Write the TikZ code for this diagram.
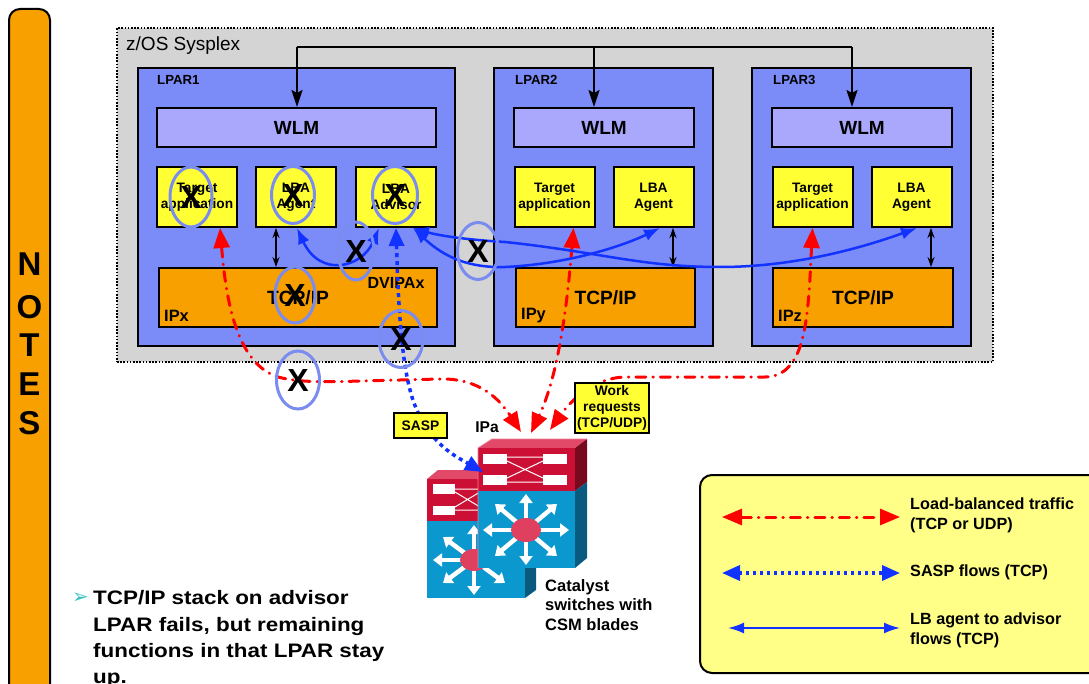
\documentclass[tikz,border=0pt]{standalone}
\usepackage{fontspec}
\setmainfont{Liberation Sans}
\setsansfont{Liberation Sans}
\newfontfamily\dejavu{DejaVu Sans}
\newfontfamily\wideface[FakeStretch=1.15]{Liberation Sans}
\usetikzlibrary{arrows.meta,shapes.geometric}

\definecolor{sysgray}{HTML}{D4D4D4}
\definecolor{lparblue}{HTML}{7B8BF7}
\definecolor{wlmlav}{HTML}{AAA8FC}
\definecolor{appyellow}{HTML}{FFFF33}
\definecolor{stackorange}{HTML}{F8A000}
\definecolor{ringblue}{HTML}{7A8CF0}
\definecolor{flowblue}{HTML}{1232FF}
\definecolor{flowred}{HTML}{FF0000}
\definecolor{legendyellow}{HTML}{FFFF88}
\definecolor{bulletteal}{HTML}{3CC0C0}
\definecolor{swred}{HTML}{CC1035}
\definecolor{swtop}{HTML}{E24868}
\definecolor{swdarkred}{HTML}{780A1E}
\definecolor{swblue}{HTML}{0A98CE}
\definecolor{swdarkblue}{HTML}{0A5A80}
\definecolor{swhub}{HTML}{E04060}

\newcommand{\setpx}[2]{\fontsize{#1}{#2}\selectfont}

\begin{document}
\begin{tikzpicture}[x=1pt,y=-1pt,
  box/.style={draw=black, line width=2pt, inner sep=0pt, align=center},
  lpar/.style={box, fill=lparblue, minimum height=278pt},
  wlmbox/.style={box, fill=wlmlav, minimum height=39pt, font=\bfseries\setpx{19}{21}},
  appbox/.style={box, fill=appyellow, minimum width=80pt, minimum height=60pt, font=\bfseries\setpx{13.7}{16}},
  stackbox/.style={box, fill=stackorange, minimum height=59pt, font=\bfseries\setpx{19.2}{21}},
  lparlabel/.style={anchor=west, inner sep=0pt, font=\bfseries\setpx{13.2}{14}},
  iplabel/.style={anchor=west, inner sep=0pt, font=\bfseries\setpx{16.4}{17}},
  xring/.style={ellipse, draw=ringblue, line width=3pt, inner sep=0pt, font=\bfseries\setpx{32}{32}, text=black},
  bus/.style={draw=black, line width=2pt},
  busarrow/.style={bus, -{Stealth[length=17pt,width=11pt,inset=3pt]}},
  localarrow/.style={draw=black, line width=1.3pt, {Stealth[length=10pt,width=7pt]}-{Stealth[length=10pt,width=7pt]}},
  redflow/.style={draw=flowred, line width=3pt, line cap=round, dash pattern=on 10pt off 7pt on 0.5pt off 7pt,
     {Triangle[length=20pt,width=16pt]}-{Triangle[length=20pt,width=16pt]}},
  saspflow/.style={draw=flowblue, line width=3.5pt, dash pattern=on 4pt off 4pt,
     {Triangle[length=18pt,width=15pt]}-{Triangle[length=18pt,width=15pt]}},
  agentflow/.style={draw=flowblue, line width=2.5pt, {Latex[length=16pt,width=12pt]}-{Latex[length=16pt,width=12pt]}},
  tagbox/.style={box, fill=appyellow, font=\bfseries\setpx{13.8}{16}},
  legendtext/.style={anchor=west, inner sep=0pt, align=left, font=\bfseries\setpx{16.2}{20}},
  notesletter/.style={inner sep=0pt, font=\bfseries\setpx{33}{33}},
  notetext/.style={anchor=base west, inner sep=0pt, font=\wideface\bfseries\setpx{19.5}{20}},
  swarrow/.style={draw=white, line width=4.5pt, -{Triangle[length=9pt,width=13pt]}}
]
\useasboundingbox (0,0) rectangle (1089,684);
\clip (0,0) rectangle (1089,684);

% ---- NOTES side bar ----
\draw[fill=stackorange, draw=black, line width=2pt, rounded corners=11pt] (9,9) rectangle (50,720);
\foreach \ch/\yy [count=\i] in {N/264,O/307,T/345,E/384,S/423}
  \node[notesletter] (notes\i) at (29.5,\yy) {\ch};

% ---- Sysplex ----
\node[draw=black, fill=sysgray, line width=2pt, dash pattern=on 1.6pt off 1.6pt, inner sep=0pt,
      minimum width=876pt, minimum height=334pt] (sysplex) at (555,195) {};
\node[anchor=west, inner sep=0pt, font=\setpx{19}{20}] (sysname) at (126,46) {z/OS Sysplex};

% ---- LPARs ----
\node[lpar, minimum width=317pt] (lpar1) at (296.5,207) {};
\node[lpar, minimum width=219pt] (lpar2) at (603.5,207) {};
\node[lpar, minimum width=219pt] (lpar3) at (861.5,207) {};
\node[lparlabel] (lpar1name) at (157,80) {LPAR1};
\node[lparlabel] (lpar2name) at (515,80) {LPAR2};
\node[lparlabel] (lpar3name) at (773,80) {LPAR3};

% ---- WLM ----
\node[wlmbox, minimum width=279pt] (wlm1) at (296.5,127.5) {WLM};
\node[wlmbox, minimum width=180pt] (wlm2) at (604,127.5) {WLM};
\node[wlmbox, minimum width=180pt] (wlm3) at (862,127.5) {WLM};

% ---- applications, agents, advisor ----
\node[appbox] (ta1) at (197,197) {Target\\application};
\node[appbox] (ag1) at (296,197) {LBA\\Agent};
\node[appbox] (adv1) at (396,197) {LBA\\Advisor};
\node[appbox] (ta2) at (554.5,197) {Target\\application};
\node[appbox] (ag2) at (653.5,197) {LBA\\Agent};
\node[appbox] (ta3) at (812.5,197) {Target\\application};
\node[appbox] (ag3) at (911.5,197) {LBA\\Agent};

% ---- TCP/IP stacks ----
\node[stackbox, minimum width=278pt] (tcp1) at (298,297.5) {TCP/IP};
\node[stackbox, minimum width=179pt] (tcp2) at (605.5,297.5) {TCP/IP};
\node[stackbox, minimum width=180pt] (tcp3) at (863,297.5) {TCP/IP};
\node[iplabel] (ipx) at (164,316) {IPx};
\node[iplabel] (ipy) at (521,316) {IPy};
\node[iplabel] (ipz) at (778,316) {IPz};
\node[inner sep=0pt, font=\bfseries\setpx{16.1}{17}] (dvipa) at (396,283) {DVIPAx};

% ---- WLM interconnect ----
\coordinate (bus1) at (297,47);
\coordinate (bus2) at (594,47);
\coordinate (bus3) at (852,47);
\draw[bus] (bus1) -- (bus3);
\draw[busarrow] (bus1) -- (bus1 |- wlm1.north);
\draw[busarrow] (bus2) -- (bus2 |- wlm2.north);
\draw[busarrow] (bus3) -- (bus3 |- wlm3.north);

% ---- agent to stack links ----
\draw[localarrow] ([xshift=-20pt]ag1.south) -- ([xshift=-20pt]ag1.south |- tcp1.north);
\draw[localarrow] ([xshift=19.5pt]ag2.south) -- ([xshift=19.5pt]ag2.south |- tcp2.north);
\draw[localarrow] ([xshift=19.5pt]ag3.south) -- ([xshift=19.5pt]ag3.south |- tcp3.north);

% ---- Catalyst switches (back unit) ----
\fill[swtop] (427,479) -- (438,470) -- (536,470) -- (525,479) -- cycle;
\fill[swdarkred] (525,479) -- (536,470) -- (536,512) -- (525,521) -- cycle;
\fill[swdarkblue] (525,521) -- (536,512) -- (536,590) -- (525,598) -- cycle;
\fill[swred] (427,479) rectangle (525,521);
\fill[swblue] (427,521) rectangle (525,598);
\fill[white] (433,484) rectangle (455,494);
\fill[white] (433,506) rectangle (455,515);
\draw[white, line width=1pt] (455,489) -- (480,489) (455,510) -- (480,510) (455,492) -- (480,507) (455,507) -- (480,492);
\foreach \tx/\ty in {433/560, 443/537, 443/583, 474/595, 505/583, 474/525}
  \draw[swarrow] (474,560) -- (\tx,\ty);
\fill[swhub] (474,560) ellipse [x radius=14pt, y radius=11pt];

% ---- Catalyst switches (front unit) ----
\fill[swtop] (478,448) -- (492,439) -- (587,439) -- (575,448) -- cycle;
\fill[swdarkred] (575,448) -- (587,439) -- (587,482) -- (575,491) -- cycle;
\fill[swdarkblue] (575,491) -- (587,482) -- (587,558) -- (575,568) -- cycle;
\fill[swred] (478,448) rectangle (575,491);
\fill[swblue] (478,491) rectangle (575,568);
\draw[swtop!70!white, line width=0.8pt] (478,568) -- (478,448) -- (492,439) -- (587,439);
\fill[white] (483,454) rectangle (507,464);
\fill[white] (483,475) rectangle (507,485);
\fill[white] (543,454) rectangle (567,464);
\fill[white] (543,475) rectangle (567,485);
\draw[white, line width=1pt] (507,457) -- (543,457) (507,482) -- (543,482) (507,461) -- (543,478) (507,478) -- (543,461);
\foreach \tx/\ty in {483/530, 569/530, 526/494, 526/565, 495/504, 557/504, 495/556, 557/556}
  \draw[swarrow] (526,530) -- (\tx,\ty);
\fill[swhub] (526,530) ellipse [x radius=15pt, y radius=12pt];

\coordinate (swin1) at (521,432);
\coordinate (swin2) at (531,433);
\coordinate (swin3) at (550,430);
\coordinate (swsasp) at (483,472);
\node[inner sep=0pt, font=\bfseries\setpx{15.6}{16}] (ipa) at (487,427) {IPa};
\node[anchor=north west, inner sep=0pt, align=left, font=\bfseries\setpx{16.5}{19.5}] (catalyst) at (545,579)
  {Catalyst\\switches with\\CSM blades};

% ---- load-balanced traffic ----
\draw[redflow] ([xshift=23pt]ta1.south) .. controls (226,300) and (236,360) .. (275,376)
   .. controls (295,383) and (330,382) .. (360,381) -- (440,379)
   .. controls (480,378) and (500,400) .. (swin1);
\draw[redflow] ([xshift=19pt]ta2.south) .. controls (566,320) and (556,380) .. (swin2);
\draw[redflow] (ta3.south) .. controls (808,320) and (806,376) .. (765,377) -- (625,377)
   .. controls (592,378) and (570,402) .. (swin3);

% ---- SASP ----
\draw[saspflow] (adv1.south) .. controls (399,330) and (404,380) .. (416,408)
   .. controls (432,445) and (455,456) .. (swsasp);
\node[tagbox, minimum width=53pt, minimum height=25pt] (sasp) at (420.5,425.5) {SASP};
\node[tagbox, minimum width=74pt, minimum height=50pt] (work) at (612,408) {Work\\requests\\(TCP/UDP)};

% ---- agent to advisor flows ----
\draw[agentflow] ([xshift=1pt]ag1.south) .. controls (320,278) and (362,268) .. ([xshift=-17pt]adv1.south);
\draw[agentflow] ([xshift=17pt]adv1.south) .. controls (445,258) and (470,268) .. (505,267)
   .. controls (570,264) and (625,245) .. ([xshift=6.5pt]ag2.south);
\draw[agentflow] ([xshift=17pt]adv1.south) .. controls (440,236) and (470,240) .. (505,242)
   .. controls (600,252) and (640,267) .. (720,267)
   .. controls (800,267) and (870,245) .. ([xshift=5.5pt]ag3.south);

% ---- failures ----
\node[xring, minimum width=42pt, minimum height=60pt] (failta) at (191,197) {X};
\node[xring, minimum width=43pt, minimum height=57pt] (failag) at (293,195) {X};
\node[xring, minimum width=45pt, minimum height=57pt] (failadv) at (395,195) {X};
\node[xring, minimum width=40pt, minimum height=56pt] (failtcp) at (295,295) {X};
\node[xring, minimum width=36pt, minimum height=58pt] (faillink) at (356,251) {X};
\node[xring, minimum width=41pt, minimum height=57pt] (failxlink) at (478,251) {X};
\node[xring, minimum width=44pt, minimum height=57pt] (faildvipa) at (401,339) {X};
\node[xring, minimum width=43pt, minimum height=58pt] (failpath) at (298,380) {X};

% ---- legend ----
\node[draw=black, line width=2pt, fill=legendyellow, rounded corners=12pt, inner sep=0pt,
      minimum width=420pt, minimum height=198pt] (legend) at (910,574) {};
\coordinate (lega) at (722,517); \coordinate (legb) at (900,517);
\coordinate (legc) at (722,573); \coordinate (legd) at (900,573);
\coordinate (lege) at (728,628); \coordinate (legf) at (900,628);
\draw[redflow] (lega) -- (legb);
\draw[saspflow, dash pattern=on 3pt off 4pt] (legc) -- (legd);
\draw[draw=flowblue, line width=2pt, {Latex[length=16pt,width=11pt]}-{Latex[length=16pt,width=11pt]}] (lege) -- (legf);
\node[legendtext] (legt1) at (910,515) {Load-balanced traffic\\(TCP or UDP)};
\node[legendtext] (legt2) at (910,572) {SASP flows (TCP)};
\node[legendtext] (legt3) at (910,630) {LB agent to advisor\\flows (TCP)};

% ---- note ----
\node[anchor=base west, inner sep=0pt, text=bulletteal, font=\dejavu\setpx{20}{20}] (bullet) at (72,603) {➢};
\node[notetext] (note1) at (93,604) {TCP/IP stack on advisor};
\node[notetext] (note2) at (93,631) {LPAR fails, but remaining};
\node[notetext] (note3) at (93,657) {functions in that LPAR stay};
\node[notetext] (note4) at (93,683) {up.};
\end{tikzpicture}
\end{document}
